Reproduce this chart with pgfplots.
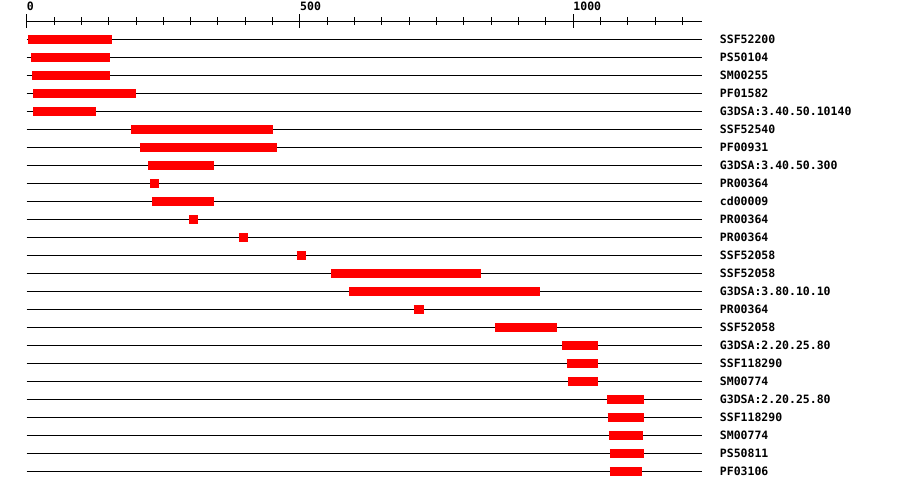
\documentclass[border=0pt]{standalone}
\usepackage{fontspec}
\setmonofont{DejaVu Sans Mono}
\usepackage{pgfplots}
\pgfplotsset{compat=1.18}
\pgfplotsset{dom/.style={red, line width=9pt, line cap=butt, no markers, forget plot}}

\begin{document}
\begin{tikzpicture}
\path[use as bounding box] (0,0) rectangle (900pt,490pt);
\begin{axis}[
  at={(26.7pt,18.5pt)}, anchor=south west,
  scale only axis, width=675pt, height=450pt,
  xmin=0, xmax=1235, ymin=-25, ymax=0,
  axis x line=top, axis y line=right,
  axis line style={-, black, line width=1pt},
  y axis line style={draw=none},
  xtick={0,500,1000}, xticklabels={0,500,1000},
  minor xtick={0,50,...,1200},
  tick align=center,
  major tick length=14pt, minor tick length=8pt,
  x tick style={black, line width=1pt},
  xticklabel style={anchor=south west, inner sep=0pt, yshift=4pt},
  ytick={-1,-2,...,-25},
  yticklabels={SSF52200,PS50104,SM00255,PF01582,G3DSA:3.40.50.10140,SSF52540,PF00931,G3DSA:3.40.50.300,PR00364,cd00009,PR00364,PR00364,SSF52058,SSF52058,G3DSA:3.80.10.10,PR00364,SSF52058,G3DSA:2.20.25.80,SSF118290,SM00774,G3DSA:2.20.25.80,SSF118290,SM00774,PS50811,PF03106},
  y tick style={draw=none},
  yticklabel style={anchor=west, inner sep=0pt, xshift=11pt},
  ymajorgrids, major grid style={black, line width=1pt},
  ticklabel style={font=\ttfamily\bfseries\fontsize{11.5}{12}\selectfont},
  /pgf/number format/assume math mode=true,
  clip=false,
]
\addplot[dom] coordinates {(2,-1) (156,-1)};
\addplot[dom] coordinates {(8,-2) (152,-2)};
\addplot[dom] coordinates {(10,-3) (152,-3)};
\addplot[dom] coordinates {(12,-4) (200,-4)};
\addplot[dom] coordinates {(12,-5) (127,-5)};
\addplot[dom] coordinates {(191,-6) (451,-6)};
\addplot[dom] coordinates {(207,-7) (458,-7)};
\addplot[dom] coordinates {(222,-8) (343,-8)};
\addplot[dom] coordinates {(226,-9) (242,-9)};
\addplot[dom] coordinates {(229,-10) (343,-10)};
\addplot[dom] coordinates {(297,-11) (313,-11)};
\addplot[dom] coordinates {(388,-12) (405,-12)};
\addplot[dom] coordinates {(494,-13) (511,-13)};
\addplot[dom] coordinates {(557,-14) (831,-14)};
\addplot[dom] coordinates {(590,-15) (939,-15)};
\addplot[dom] coordinates {(708,-16) (727,-16)};
\addplot[dom] coordinates {(857,-17) (970,-17)};
\addplot[dom] coordinates {(979,-18) (1045,-18)};
\addplot[dom] coordinates {(988,-19) (1045,-19)};
\addplot[dom] coordinates {(990,-20) (1045,-20)};
\addplot[dom] coordinates {(1062,-21) (1129,-21)};
\addplot[dom] coordinates {(1063,-22) (1129,-22)};
\addplot[dom] coordinates {(1065,-23) (1128,-23)};
\addplot[dom] coordinates {(1067,-24) (1129,-24)};
\addplot[dom] coordinates {(1067,-25) (1126,-25)};
\end{axis}
\end{tikzpicture}
\end{document}
